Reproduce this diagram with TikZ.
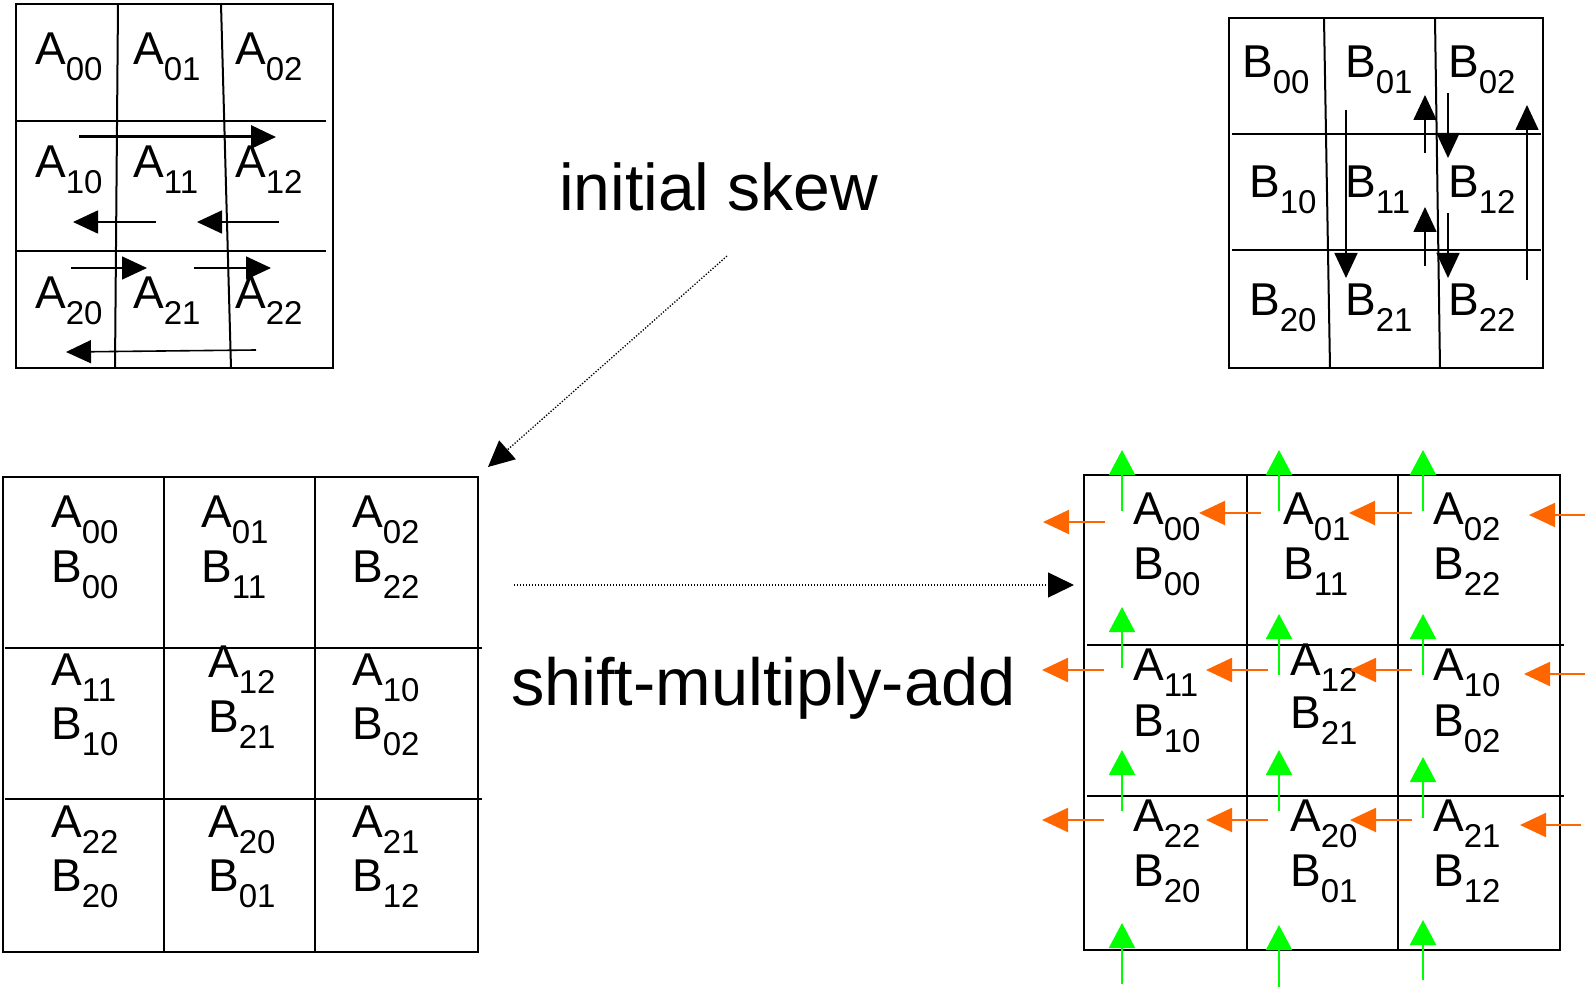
\documentclass[tikz,border=0pt]{standalone}
\usepackage{fontspec}
\setmainfont{Liberation Sans}
\usetikzlibrary{arrows.meta}

% block label: letter with a lowered, smaller index
\newcommand\blk[2]{#1\raisebox{-16pt}{\fontsize{33}{33}\selectfont #2}}

\tikzset{
  gridline/.style={line width=2pt},
  lbl/.style={inner sep=0pt, anchor=base west, font=\fontsize{46}{50}\selectfont},
  big/.style={inner sep=0pt, anchor=base west, font=\fontsize{66}{70}\selectfont},
  tri/.style={-{Triangle[length=25pt,width=23pt]}},
  mv/.style={tri, line width=1.6pt},
  shiftA/.style={-{Triangle[length=26pt,width=24pt]}, line width=2pt, draw={rgb,255:red,255;green,102;blue,0}},
  shiftB/.style={-{Triangle[length=25pt,width=26pt]}, line width=2pt, draw={rgb,255:red,0;green,255;blue,0}},
  flow/.style={-{Triangle[length=26pt,width=25pt]}, line width=1.3pt, dash pattern=on 1.3pt off 1.7pt},
}

\begin{document}
\begin{tikzpicture}[x=1pt, y=-1pt]
\useasboundingbox (0,0) rectangle (1585,987);

% ---------- matrix A before the skew ----------
\draw[gridline] (16,4) rectangle (333,368);
\draw[gridline] (118,4) -- (115,368);
\draw[gridline] (221,4) -- (231,368);
\draw[gridline] (17,121) -- (326,121);
\draw[gridline] (17,251) -- (326,251);
\foreach \r/\y in {0/65,1/178,2/308}
  \foreach \c/\x in {0/35,1/133,2/235}
    \node[lbl] (a\r\c) at (\x,\y) {\blk{A}{\r\c}};
\draw[tri, line width=3pt] (79,137) -- (276,137);
\draw[mv] (156,222) -- (73,222);
\draw[mv] (279,222) -- (197,222);
\draw[mv] (71,268) -- (147,268);
\draw[mv] (194,268) -- (271,268);
\draw[mv] (256,350) -- (66,352);

% ---------- matrix B before the skew ----------
\draw[gridline] (1229,18) rectangle (1543,368);
\draw[gridline] (1324,18) -- (1330,368);
\draw[gridline] (1435,18) -- (1440,368);
\draw[gridline] (1232,134) -- (1541,134);
\draw[gridline] (1232,250) -- (1541,250);
\node[lbl] (b00) at (1242,78) {\blk{B}{00}};
\node[lbl] (b01) at (1345,78) {\blk{B}{01}};
\node[lbl] (b02) at (1448,78) {\blk{B}{02}};
\node[lbl] (b10) at (1249,198) {\blk{B}{10}};
\node[lbl] (b11) at (1345,198) {\blk{B}{11}};
\node[lbl] (b12) at (1448,198) {\blk{B}{12}};
\node[lbl] (b20) at (1249,315) {\blk{B}{20}};
\node[lbl] (b21) at (1345,315) {\blk{B}{21}};
\node[lbl] (b22) at (1448,315) {\blk{B}{22}};
\draw[mv] (1346,110) -- (1346,278);
\draw[mv] (1425,153) -- (1425,95);
\draw[mv] (1448,93) -- (1448,158);
\draw[mv] (1425,266) -- (1425,207);
\draw[mv] (1448,213) -- (1448,278);
\draw[mv] (1527,280) -- (1527,105);

% ---------- captions ----------
\node[big] (skew) at (559,211) {initial skew};
\node[big, font=\fontsize{66.7}{70}\selectfont] (sma) at (511,705) {shift-multiply-add};

% ---------- skewed layout ----------
\draw[gridline] (3,477) rectangle (478,952);
\draw[gridline] (164,477) -- (164,952);
\draw[gridline] (315,477) -- (315,952);
\draw[gridline] (5,648) -- (482,648);
\draw[gridline] (5,799) -- (482,799);

% ---------- skewed layout, step view ----------
\draw[gridline] (1084,475) rectangle (1560,950);
\draw[gridline] (1247,475) -- (1247,950);
\draw[gridline] (1398,475) -- (1398,950);
\draw[gridline] (1087,645) -- (1564,645);
\draw[gridline] (1087,796) -- (1564,796);

% cell contents: name/A index/B index/x left/x right/A baseline left/B baseline left/A baseline right/B baseline right
\foreach \n/\ai/\bi/\xl/\xr/\yal/\ybl/\yar/\ybr in {
  00/00/00/51/1133/527/582/524/579,
  01/01/11/201/1283/527/582/524/579,
  02/02/22/352/1433/527/582/524/579,
  10/11/10/51/1133/685/739/680/736,
  11/12/21/208/1290/677/732/675/728,
  12/10/02/352/1433/685/739/680/736,
  20/22/20/51/1133/837/891/831/886,
  21/20/01/208/1290/837/891/831/886,
  22/21/12/352/1433/837/891/831/886}{
  \node[lbl] (sa\n) at (\xl,\yal) {\blk{A}{\ai}};
  \node[lbl] (sb\n) at (\xl,\ybl) {\blk{B}{\bi}};
  \node[lbl] (ta\n) at (\xr,\yar) {\blk{A}{\ai}};
  \node[lbl] (tb\n) at (\xr,\ybr) {\blk{B}{\bi}};
}

% B blocks move up
\foreach \x/\ya/\yb in {
  1122/511/450, 1279/511/450, 1423/511/450,
  1122/668/607, 1279/675/614, 1423/675/614,
  1122/811/750, 1279/811/750, 1423/818/757,
  1122/984/923, 1279/987/925, 1423/980/920}
  \draw[shiftB] (\x,\ya) -- (\x,\yb);

% A blocks move left
\foreach \xa/\xb/\y in {
  1105/1043/522, 1261/1199/513, 1412/1349/513, 1585/1529/515,
  1104/1042/670, 1268/1206/670, 1412/1350/670, 1585/1524/674,
  1104/1042/820, 1268/1206/820, 1412/1350/820, 1581/1520/825}
  \draw[shiftA] (\xa,\y) -- (\xb,\y);

% flow between the stages
\coordinate (skewfrom) at (727,256);
\coordinate (skewto) at (488,467);
\coordinate (stepfrom) at (514,585);
\coordinate (stepto) at (1074,585);
\draw[flow] (skewfrom) -- (skewto);
\draw[flow] (stepfrom) -- (stepto);
\end{tikzpicture}
\end{document}
